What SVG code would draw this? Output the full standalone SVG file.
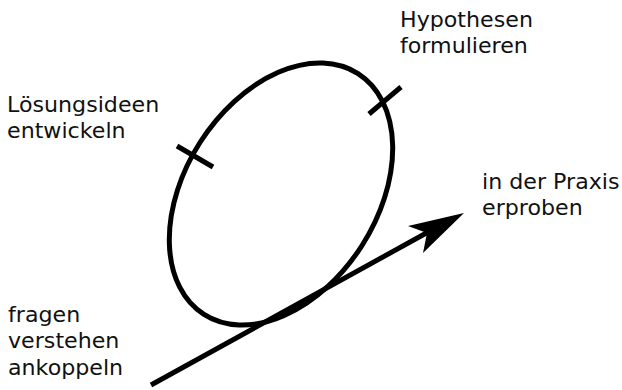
<svg xmlns="http://www.w3.org/2000/svg" width="622" height="390" viewBox="0 0 622 390">
<style>
.t{font-family:"DejaVu Sans",sans-serif;font-size:21px;fill:#111}
.s{fill:none;stroke:#000;stroke-width:5}
</style>
<rect width="622" height="390" fill="#fff"/>
<g id="loop">
<ellipse class="s" cx="281" cy="194" rx="143" ry="96" transform="rotate(-57.4 281 194)"/>
</g>
<g id="tick-loesung"><line class="s" x1="177" y1="146" x2="213" y2="167"/></g>
<g id="tick-hypothesen"><line class="s" x1="401" y1="87" x2="369" y2="114"/></g>
<g id="connectors">
<line class="s" x1="151" y1="385" x2="430" y2="231"/>
<polygon points="464,213 408,226 427,233 423,253" fill="#000"/>
</g>
<g id="label-hypothesen" transform="translate(400 0) scale(1.055 1)"><text class="t" x="0" y="27.5">Hypothesen</text><text class="t" x="0" y="53.5">formulieren</text></g>
<g id="label-loesung" transform="translate(7 0) scale(1.055 1)"><text class="t" x="0" y="112.5">Lösungsideen</text><text class="t" x="0" y="138.5">entwickeln</text></g>
<g id="label-praxis" transform="translate(482 0) scale(1.055 1)"><text class="t" x="0" y="189">in der Praxis</text><text class="t" x="0" y="215">erproben</text></g>
<g id="label-fragen" transform="translate(8 0) scale(1.055 1)"><text class="t" x="0" y="322.5">fragen</text><text class="t" x="0" y="348.5">verstehen</text><text class="t" x="0" y="375">ankoppeln</text></g>
</svg>
